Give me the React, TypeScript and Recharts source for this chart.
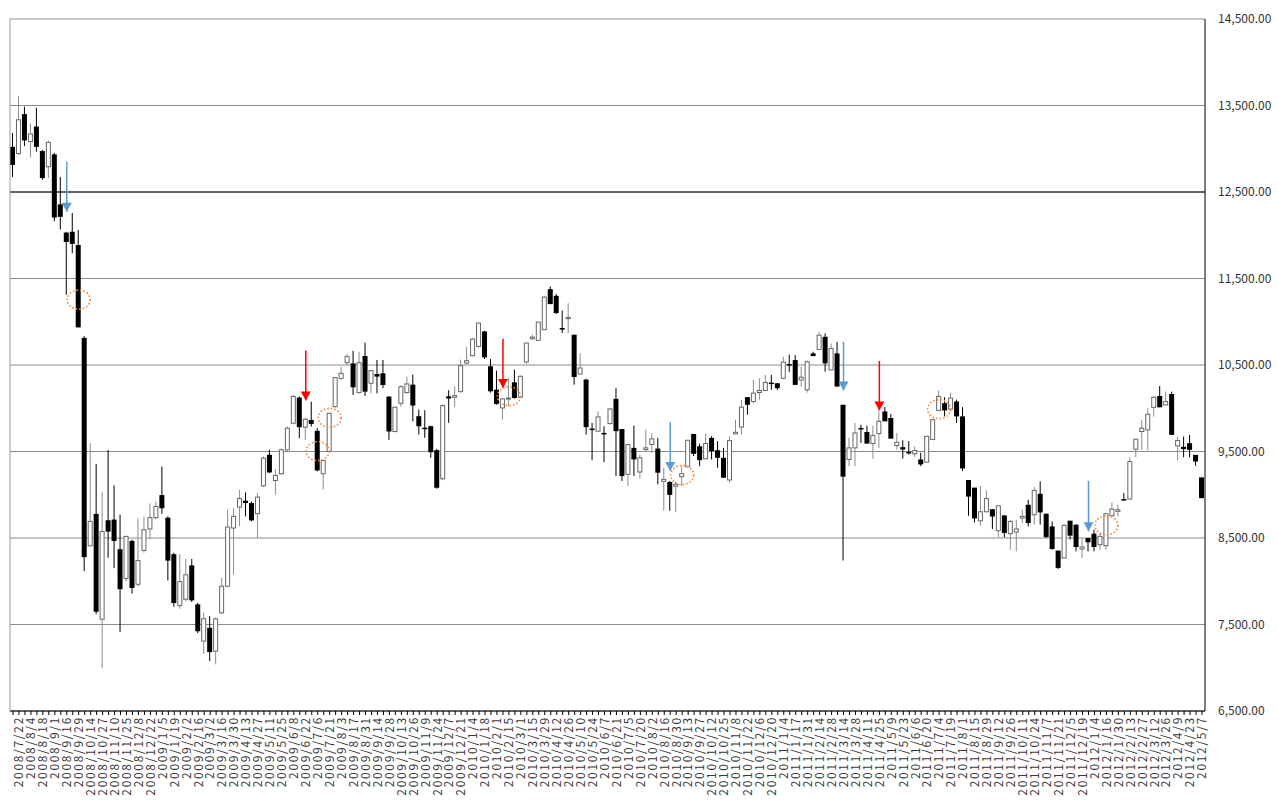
import React from "react";
import {
  ComposedChart,
  Bar,
  XAxis,
  YAxis,
  CartesianGrid,
  ReferenceLine,
  ReferenceDot,
} from "recharts";

// x-axis labels: one every second week
const weekLabels = [
  "2008/7/22", "2008/8/4", "2008/8/18", "2008/9/1", "2008/9/16", "2008/9/29", "2008/10/14", "2008/10/27",
  "2008/11/10", "2008/11/25", "2008/12/8", "2008/12/22", "2009/1/5", "2009/1/19", "2009/2/2", "2009/2/16",
  "2009/3/2", "2009/3/16", "2009/3/30", "2009/4/13", "2009/4/27", "2009/5/11", "2009/5/25", "2009/6/8",
  "2009/6/22", "2009/7/6", "2009/7/21", "2009/8/3", "2009/8/17", "2009/8/31", "2009/9/14", "2009/9/28",
  "2009/10/13", "2009/10/26", "2009/11/9", "2009/11/24", "2009/12/7", "2009/12/21", "2010/1/4", "2010/1/18",
  "2010/2/1", "2010/2/15", "2010/3/1", "2010/3/15", "2010/3/29", "2010/4/12", "2010/4/26", "2010/5/10",
  "2010/5/24", "2010/6/7", "2010/6/21", "2010/7/5", "2010/7/20", "2010/8/2", "2010/8/16", "2010/8/30",
  "2010/9/13", "2010/9/27", "2010/10/12", "2010/10/25", "2010/11/8", "2010/11/22", "2010/12/6", "2010/12/20",
  "2011/1/4", "2011/1/17", "2011/1/31", "2011/2/14", "2011/2/28", "2011/3/14", "2011/3/28", "2011/4/11",
  "2011/4/25", "2011/5/9", "2011/5/23", "2011/6/6", "2011/6/20", "2011/7/4", "2011/7/19", "2011/8/1",
  "2011/8/15", "2011/8/29", "2011/9/12", "2011/9/26", "2011/10/11", "2011/10/24", "2011/11/7", "2011/11/21",
  "2011/12/5", "2011/12/19", "2012/1/4", "2012/1/16", "2012/1/30", "2012/2/13", "2012/2/27", "2012/3/12",
  "2012/3/26", "2012/4/9", "2012/4/23", "2012/5/7",
];

const priceTicks = [6500, 7500, 8500, 9500, 10500, 11500, 12500, 13500, 14500];

// weekly OHLC
const opens = [
  13022, 12944, 13400, 13083, 13257, 12974, 12792, 12935, 12357, 12031,
  12040, 11887, 10813, 8409, 8779, 7561, 8705, 8713, 8370, 8031,
  8466, 7965, 8357, 8605, 8735, 8996, 8735, 8313, 7718, 7792,
  8183, 7733, 7308, 7462, 7192, 7635, 7943, 8615, 8858, 8931,
  8904, 8781, 9104, 9462, 9165, 9243, 9519, 9827, 10123, 9781,
  9865, 9739, 9243, 9500, 10019, 10346, 10527, 10519, 10181, 10604,
  10289, 10396, 10404, 10135, 9731, 10058, 10181, 10273, 9908, 9775,
  9792, 9515, 9185, 10138, 10127, 10192, 10523, 10608, 10715, 10888,
  10485, 10215, 10004, 10112, 10300, 10127, 10535, 10804, 10785, 10908,
  11377, 11300, 10927, 11035, 10850, 10396, 10331, 9765, 9735, 9715,
  9823, 10108, 9760, 9236, 9542, 9263, 9523, 9580, 9534, 9155,
  9147, 9100, 9209, 9324, 9703, 9561, 9416, 9657, 9515, 9427,
  9171, 9703, 9783, 10128, 10078, 10182, 10205, 10297, 10289, 10347,
  10510, 10557, 10327, 10213, 10634, 10680, 10826, 10442, 10634, 10040,
  9408, 9542, 9772, 9726, 9592, 9707, 9963, 9887, 9569, 9550,
  9495, 9473, 9408, 9377, 9638, 9975, 10059, 9990, 10078, 9906,
  9170, 9082, 8699, 8803, 8833, 8584, 8761, 8550, 8569, 8731,
  8884, 8769, 9011, 8781, 8634, 8354, 8269, 8700, 8654, 8373,
  8500, 8550, 8423, 8411, 8757, 8808, 8950, 8950, 9527, 9731,
  9750, 10011, 10142, 10038, 10165, 9565, 9554, 9596, 9461, 9200,
];
const highs = [
  13183, 13605, 13487, 13292, 13474, 12987, 13096, 12950, 12674, 12040,
  12257, 12061, 10835, 9596, 9357, 9031, 9518, 9109, 8770, 8530,
  8480, 8726, 8748, 8900, 8922, 9326, 8750, 8330, 8313, 8257,
  8257, 7750, 7639, 7596, 7580, 8039, 8827, 8846, 9058, 9027,
  8920, 9020, 9442, 9519, 9296, 9539, 9789, 10154, 10135, 9890,
  10077, 9769, 9396, 9942, 10354, 10481, 10627, 10665, 10654, 10758,
  10440, 10558, 10558, 10140, 10012, 10265, 10366, 10388, 9985, 9977,
  9800, 9530, 10045, 10208, 10254, 10562, 10708, 10812, 10992, 10895,
  10569, 10435, 10120, 10350, 10446, 10380, 10754, 10850, 10996, 11300,
  11408, 11323, 11131, 11215, 10850, 10638, 10340, 9831, 9965, 9792,
  10000, 10235, 9760, 9590, 9799, 9465, 9753, 9714, 9657, 9312,
  9160, 9150, 9331, 9630, 9703, 9592, 9707, 9676, 9619, 9542,
  9676, 9868, 10098, 10128, 10327, 10347, 10385, 10385, 10289, 10596,
  10620, 10615, 10480, 10553, 10653, 10883, 10864, 10750, 10768, 10040,
  9657, 9829, 9810, 9799, 9799, 9963, 10013, 9933, 9714, 9630,
  9620, 9560, 9485, 9676, 9868, 10205, 10128, 10180, 10100, 10013,
  9170, 9082, 9102, 9050, 8833, 8872, 8764, 8711, 8711, 8827,
  8942, 9088, 9154, 8781, 8692, 8354, 8665, 8700, 8660, 8500,
  8500, 8596, 8560, 8781, 8911, 8884, 9019, 9434, 9642, 9865,
  10000, 10142, 10257, 10192, 10192, 9673, 9673, 9692, 9461, 9200,
];
const lows = [
  12674, 12930, 13031, 12900, 12966, 12640, 12661, 12161, 12066, 11313,
  11792, 10935, 8118, 8409, 7620, 6996, 8270, 8152, 7413, 8000,
  7857, 7940, 8330, 8487, 8720, 8779, 8009, 7705, 7683, 7770,
  7760, 7400, 7161, 7077, 7039, 7620, 7930, 8077, 8635, 8750,
  8692, 8500, 9090, 9250, 9000, 9230, 9505, 9815, 9654, 9635,
  9788, 9270, 9058, 9490, 10005, 10330, 10500, 10154, 10170, 10142,
  10173, 10173, 10231, 9635, 9720, 10019, 10170, 9850, 9696, 9658,
  9427, 9070, 9169, 9831, 10015, 10180, 10510, 10600, 10700, 10569,
  10180, 10040, 9869, 10023, 10110, 10120, 10515, 10790, 10785, 10908,
  11204, 11092, 10869, 10869, 10273, 10396, 9696, 9400, 9735, 9377,
  9810, 9215, 9159, 9102, 9216, 9186, 9504, 9485, 9121, 8814,
  8814, 8800, 9102, 9324, 9446, 9331, 9416, 9408, 9312, 9197,
  9140, 9703, 9695, 9925, 10059, 10098, 10205, 10212, 10212, 10335,
  10420, 10270, 10250, 10182, 10603, 10680, 10423, 10442, 10251, 8240,
  9331, 9331, 9599, 9592, 9416, 9542, 9849, 9649, 9523, 9416,
  9465, 9439, 9331, 9377, 9638, 9975, 9906, 9960, 9830, 9274,
  8757, 8680, 8642, 8803, 8603, 8508, 8508, 8365, 8346, 8673,
  8634, 8654, 8654, 8500, 8365, 8142, 8269, 8481, 8346, 8269,
  8346, 8346, 8365, 8365, 8757, 8750, 8930, 8950, 9434, 9519,
  9511, 9904, 10011, 10038, 9692, 9396, 9434, 9434, 9334, 8961,
];
const closes = [
  12813, 13335, 13096, 13170, 13022, 12661, 13074, 12205, 12213, 11922,
  11900, 10935, 8279, 8692, 7648, 8574, 8574, 8466, 7909, 8518,
  7922, 8239, 8596, 8735, 8865, 8844, 8239, 7748, 7996, 8074,
  7779, 7422, 7566, 7181, 7566, 7943, 8627, 8750, 8958, 8904,
  8704, 8973, 9423, 9258, 9223, 9519, 9769, 10135, 9781, 9873,
  9819, 9281, 9396, 9942, 10354, 10404, 10597, 10242, 10527, 10192,
  10435, 10366, 10269, 9731, 10012, 10250, 10281, 10031, 9792, 9765,
  9492, 9081, 10031, 10112, 10146, 10492, 10550, 10800, 10985, 10588,
  10196, 10050, 10108, 10118, 10119, 10369, 10754, 10823, 10996, 11285,
  11204, 11100, 10915, 11050, 10362, 10465, 9781, 9758, 9900, 9704,
  9992, 9735, 9216, 9580, 9408, 9427, 9542, 9646, 9255, 9178,
  8998, 9121, 9243, 9630, 9473, 9400, 9592, 9504, 9427, 9197,
  9626, 9722, 10013, 10040, 10174, 10205, 10297, 10281, 10232, 10534,
  10499, 10270, 10358, 10538, 10603, 10845, 10519, 10691, 10251, 9209,
  9542, 9714, 9760, 9592, 9684, 9849, 9849, 9649, 9607, 9523,
  9492, 9511, 9351, 9676, 9868, 10136, 9975, 10117, 9906, 9304,
  8979, 8726, 8803, 8956, 8749, 8872, 8558, 8692, 8604, 8750,
  8673, 9050, 8796, 8511, 8373, 8154, 8646, 8527, 8396, 8396,
  8450, 8396, 8519, 8781, 8834, 8827, 8942, 9384, 9642, 9769,
  9931, 10127, 10011, 10077, 9692, 9627, 9527, 9519, 9384, 8961,
];

// hand-drawn marks on the original chart
const arrowIdx = [9, 49, 82, 110, 139, 145, 180];
const arrowFrom = [12849, 10667, 10804, 9837, 10768, 10546, 9161];
const arrowTo = [12272, 10089, 10235, 9274, 10205, 9975, 8577];
const arrowKind = ["blue", "red", "red", "blue", "blue", "red", "blue"];

const circleIdx = [11, 51, 53, 83, 112, 155, 183];
const circleVal = [11255, 9504, 9889, 10139, 9228, 9990, 8646];

const data = opens.map((o, i) => ({
  i,
  open: o,
  high: highs[i],
  low: lows[i],
  close: closes[i],
  range: [lows[i], highs[i]],
}));

const ARROW_COLORS: Record<string, string> = { red: "#ff0000", blue: "#5b9bd5" };
const FONT = '"Noto Sans CJK JP", "Noto Sans", sans-serif';

function Candle(props: any) {
  const { x, y, width, height, payload } = props;
  if (!payload) return null;
  const { open, close, high, low } = payload;
  const top = Math.min(y, y + height);
  const bot = Math.max(y, y + height);
  const span = high - low || 1;
  const py = (v: number) => top + ((high - v) / span) * (bot - top);
  const up = close >= open;
  const bTop = py(Math.max(open, close));
  const bBot = py(Math.min(open, close));
  const cx = x + width / 2;
  return (
    <g>
      <line x1={cx} x2={cx} y1={top} y2={bot} stroke={up ? "#8c8c8c" : "#000"} strokeWidth={1} />
      {up ? (
        <rect x={x + 0.5} y={bTop} width={width - 1} height={Math.max(bBot - bTop, 1)} fill="#fff" stroke="#666" strokeWidth={1} />
      ) : (
        <rect x={x} y={bTop} width={width} height={Math.max(bBot - bTop, 1.5)} fill="#000" />
      )}
    </g>
  );
}

function DateTick(props: any) {
  const { x, y, payload } = props;
  const i = payload.value;
  if (i % 2 === 0) return <g />;
  const label = weekLabels[(i - 1) / 2];
  return (
    <text
      x={x}
      y={y}
      transform={`rotate(-90 ${x} ${y})`}
      textAnchor="end"
      dy="0.36em"
      fontSize={12}
      letterSpacing={1.7}
      fontFamily={FONT}
      fill="#3a3a3a"
    >
      {label}
    </text>
  );
}

const fmt = (v: number) =>
  v.toLocaleString("en-US", { minimumFractionDigits: 2, maximumFractionDigits: 2 });

export default function App() {
  return (
    <div style={{ width: 1278, height: 803, background: "#fff" }}>
      <style>{`body{margin:0;}`}</style>
      <ComposedChart
        width={1278}
        height={803}
        data={data}
        margin={{ top: 19, right: 0, bottom: 0, left: 0 }}
        barCategoryGap={0}
      >
        <CartesianGrid yAxisId="r" vertical={false} stroke="#8c8c8c" />
        <XAxis
          dataKey="i"
          type="category"
          interval={0}
          height={92}
          tick={<DateTick />}
          tickSize={4}
          tickMargin={1}
          tickLine={{ stroke: "#000" }}
          axisLine={{ stroke: "#000" }}
        />
        <YAxis
          yAxisId="l"
          orientation="left"
          width={10}
          domain={[6500, 14500]}
          ticks={priceTicks}
          tick={false}
          tickLine={false}
          axisLine={{ stroke: "#999" }}
        />
        <YAxis
          yAxisId="r"
          orientation="right"
          width={73}
          domain={[6500, 14500]}
          ticks={priceTicks}
          tickFormatter={fmt}
          tick={{ fontSize: 12, fill: "#333", fontFamily: FONT }}
          tickLine={false}
          tickSize={0}
          tickMargin={13}
          axisLine={{ stroke: "#000" }}
        />
        <ReferenceLine yAxisId="r" y={12500} stroke="#000" />
        <Bar
          yAxisId="r"
          dataKey="range"
          barSize={5}
          shape={<Candle />}
          isAnimationActive={false}
        />
        {arrowIdx.map((idx, k) => (
          <ReferenceLine
            key={`al${k}`}
            yAxisId="r"
            segment={[
              { x: idx, y: arrowFrom[k] },
              { x: idx, y: arrowTo[k] },
            ]}
            stroke={ARROW_COLORS[arrowKind[k]]}
            strokeWidth={1.5}
          />
        ))}
        {arrowIdx.map((idx, k) => (
          <ReferenceDot
            key={`ah${k}`}
            yAxisId="r"
            x={idx}
            y={arrowTo[k]}
            shape={(p: any) => (
              <polygon
                points={`${p.cx - 5},${p.cy - 9} ${p.cx + 5},${p.cy - 9} ${p.cx},${p.cy}`}
                fill={ARROW_COLORS[arrowKind[k]]}
              />
            )}
          />
        ))}
        {circleIdx.map((idx, k) => (
          <ReferenceDot
            key={`c${k}`}
            yAxisId="r"
            x={idx}
            y={circleVal[k]}
            shape={(p: any) => (
              <ellipse
                cx={p.cx}
                cy={p.cy}
                rx={11.5}
                ry={9.5}
                fill="none"
                stroke="#f08a3c"
                strokeWidth={1.6}
                strokeDasharray="1.6 2"
              />
            )}
          />
        ))}
      </ComposedChart>
    </div>
  );
}
